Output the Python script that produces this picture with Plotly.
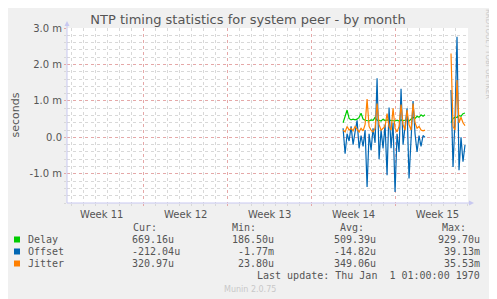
import pandas as pd
import plotly.graph_objects as go

# values in milliseconds, sampled every 4 hours
delay1 = [0.40, 0.55, 0.75, 0.52, 0.48, 0.50, 0.48, 0.50, 0.55, 0.66, 0.50, 0.47,
          0.47, 0.45, 0.48, 0.47, 0.55, 0.47, 0.47, 0.45, 0.50, 0.46, 0.48, 0.47,
          0.46, 0.47, 0.45, 0.47, 0.45, 0.48, 0.46, 0.47, 0.48, 0.45, 0.50, 0.55,
          0.52, 0.58, 0.55, 0.62, 0.58, 0.62]
offset1 = [0.25, -0.45, 0.10, -0.10, 0.30, -0.20, 0.15, 0.47, -0.30, 0.05, -0.25, 0.20,
           -1.36, 0.10, -0.35, 0.25, -0.15, 1.62, -0.60, 0.20, -0.30, 0.35, -1.04, 0.82,
           -0.30, 0.40, -1.50, 0.10, -0.40, 1.33, -0.20, 0.30, 0.80, -1.13, -0.20, 1.00,
           0.10, -0.40, 0.05, -0.25, 0.05, 0.00]
jitter1 = [0.20, 0.15, 0.30, 0.20, 0.25, 0.18, 0.30, 0.22, 0.15, 0.25, 0.18, 0.35,
           1.05, 0.30, 0.20, 0.15, 0.25, 0.93, 0.35, 0.20, 0.25, 0.30, 0.65, 0.30,
           0.20, 0.80, 0.25, 0.15, 0.30, 0.90, 0.35, 0.20, 0.75, 0.35, 0.20, 0.93,
           0.40, 0.25, 0.30, 0.20, 0.18, 0.20]

delay2 = [0.40, 0.52, 0.55, 0.55, 0.60, 0.58, 0.65, 0.67]
offset2 = [1.30, -0.81, 0.50, 2.76, -0.90, 0.00, -0.67, -0.21]
jitter2 = [2.30, 0.30, 0.20, 1.57, 0.40, 0.55, 0.40, 0.32]

names = ["Delay", "Offset", "Jitter"]
colors = ["#00CC00", "#0066B3", "#FF8000"]
cur = ["669.16u", "-212.04u", "320.97u"]
mins = ["186.50u", "-1.77m", "23.80u"]
avgs = ["509.39u", "-14.82u", "349.06u"]
maxs = ["929.70u", "39.13m", "35.53m"]

t1 = list(pd.date_range("2024-04-03 15:00", periods=len(delay1), freq="4h"))
t2 = list(pd.date_range("2024-04-12 15:00", periods=len(delay2), freq="4h"))
x = t1 + [pd.Timestamp("2024-04-11 12:00")] + t2

def join(a, b):
    return a + [None] + b

series = [join(delay1, delay2), join(offset1, offset2), join(jitter1, jitter2)]

fig = go.Figure()
for n, c, s in zip(names, colors, series):
    fig.add_trace(go.Scatter(x=x, y=s, mode="lines", name=n,
                             line=dict(color=c, width=1.2), connectgaps=False))

# the page body adds an 8px margin, so the figure is laid out 8px up/left
OFF = 8
W, H = 497, 299
# plot area in screen pixels
L, R, T, B = 67, 468, 28, 203
def px(v):
    return (v - L) / (R - L)
def py(v):
    return (B - v) / (B - T)

grey = "#555555"
mono = dict(family="DejaVu Sans Mono", size=10, color=grey)
ann = []
ann.append(dict(x=px(15), y=py(115.5), text="seconds", textangle=-90, showarrow=False,
                font=dict(family="DejaVu Sans", size=11, color=grey)))
ann.append(dict(x=px(488), y=py(54), text="RRDTOOL / TOBI OETIKER", textangle=90,
                showarrow=False, font=dict(family="DejaVu Sans", size=7, color="#c8c8c8")))
ann.append(dict(x=px(250), y=py(289), text="Munin 2.0.75", showarrow=False,
                font=dict(family="DejaVu Sans", size=8, color="#c8c8c8")))
for txt, xx in [("Cur:", 159), ("Min:", 258), ("Avg:", 366), ("Max:", 468)]:
    ann.append(dict(x=px(xx), y=py(227.5), text=txt, xanchor="right", showarrow=False, font=mono))
shapes = []
for i, n in enumerate(names):
    yy = 239.5 + 12 * i
    ann.append(dict(x=px(26), y=py(yy), text=n, xanchor="left", showarrow=False, font=mono))
    ann.append(dict(x=px(130), y=py(yy), text=cur[i], xanchor="left", showarrow=False, font=mono))
    ann.append(dict(x=px(276), y=py(yy), text=mins[i], xanchor="right", showarrow=False, font=mono))
    ann.append(dict(x=px(378), y=py(yy), text=avgs[i], xanchor="right", showarrow=False, font=mono))
    ann.append(dict(x=px(482), y=py(yy), text=maxs[i], xanchor="right", showarrow=False, font=mono))
    shapes.append(dict(type="rect", xref="paper", yref="paper", x0=px(14), x1=px(20),
                       y0=py(yy + 3), y1=py(yy - 3), fillcolor=colors[i], line_width=0))
ann.append(dict(x=px(482), y=py(275), text="Last update: Thu Jan\u00a0 1 01:00:00 1970",
                xanchor="right", showarrow=False, font=mono))
for a in ann:
    a.setdefault("xref", "paper")
    a.setdefault("yref", "paper")
    a.setdefault("xanchor", "center")
    a.setdefault("yanchor", "middle")

axis_col = "#c8c8f0"
shapes.append(dict(type="line", xref="paper", yref="paper", x0=0, x1=0, y0=0, y1=py(23),
                   line=dict(color=axis_col, width=1)))
shapes.append(dict(type="line", xref="paper", yref="paper", x0=0, x1=px(472), y0=0, y1=0,
                   line=dict(color=axis_col, width=1)))
shapes.append(dict(type="path", xref="paper", yref="paper",
                   path=f"M {px(64.5)} {py(26)} L {px(69.5)} {py(26)} L {px(67)} {py(21)} Z",
                   fillcolor=axis_col, line_width=0))
shapes.append(dict(type="path", xref="paper", yref="paper",
                   path=f"M {px(469)} {py(200.5)} L {px(469)} {py(205.5)} L {px(474)} {py(203)} Z",
                   fillcolor=axis_col, line_width=0))

fig.update_layout(
    width=W, height=H,
    margin=dict(l=L - OFF, r=W - (R - OFF), t=T - OFF, b=H - (B - OFF), autoexpand=False),
    paper_bgcolor="#F0F0F0", plot_bgcolor="white",
    showlegend=False,
    title=dict(text="NTP timing statistics for system peer - by month", x=px(248), xref="paper",
               xanchor="center", y=1 - (19 - OFF) / H, yanchor="middle",
               font=dict(family="DejaVu Sans", size=13, color=grey)),
    annotations=ann, shapes=shapes,
)
fig.update_xaxes(
    type="date", range=["2024-03-11 14:24", "2024-04-14 01:00"], automargin=False,
    tick0="2024-03-11", dtick=7 * 86400000, ticklabelmode="period", tickformat="Week %V",
    showgrid=True, gridcolor="#e5a8a8", griddash="dot", gridwidth=1,
    ticks="outside", ticklen=2, tickcolor="#e5a8a8",
    minor=dict(dtick=86400000, showgrid=True, gridcolor="#d8d8d8", griddash="dot",
               ticks="outside", ticklen=2, tickcolor="#d8d8d8"),
    tickfont=dict(family="DejaVu Sans", size=10, color=grey),
    showline=False, zeroline=False, fixedrange=True,
)
fig.update_yaxes(
    range=[-1.8, 3.0], tickvals=[-1, 0, 1, 2, 3], automargin=False,
    ticktext=["-1.0 m", "0.0", "1.0 m", "2.0 m", "3.0 m"],
    showgrid=True, gridcolor="#e5a8a8", griddash="dot", gridwidth=1,
    ticks="outside", ticklen=2, tickcolor="#e5a8a8",
    minor=dict(dtick=0.2, showgrid=True, gridcolor="#d8d8d8", griddash="dot",
               ticks="outside", ticklen=2, tickcolor="#d8d8d8"),
    tickfont=dict(family="DejaVu Sans", size=10, color=grey),
    showline=False, zeroline=False, fixedrange=True,
)

fig.write_html("out.html")
